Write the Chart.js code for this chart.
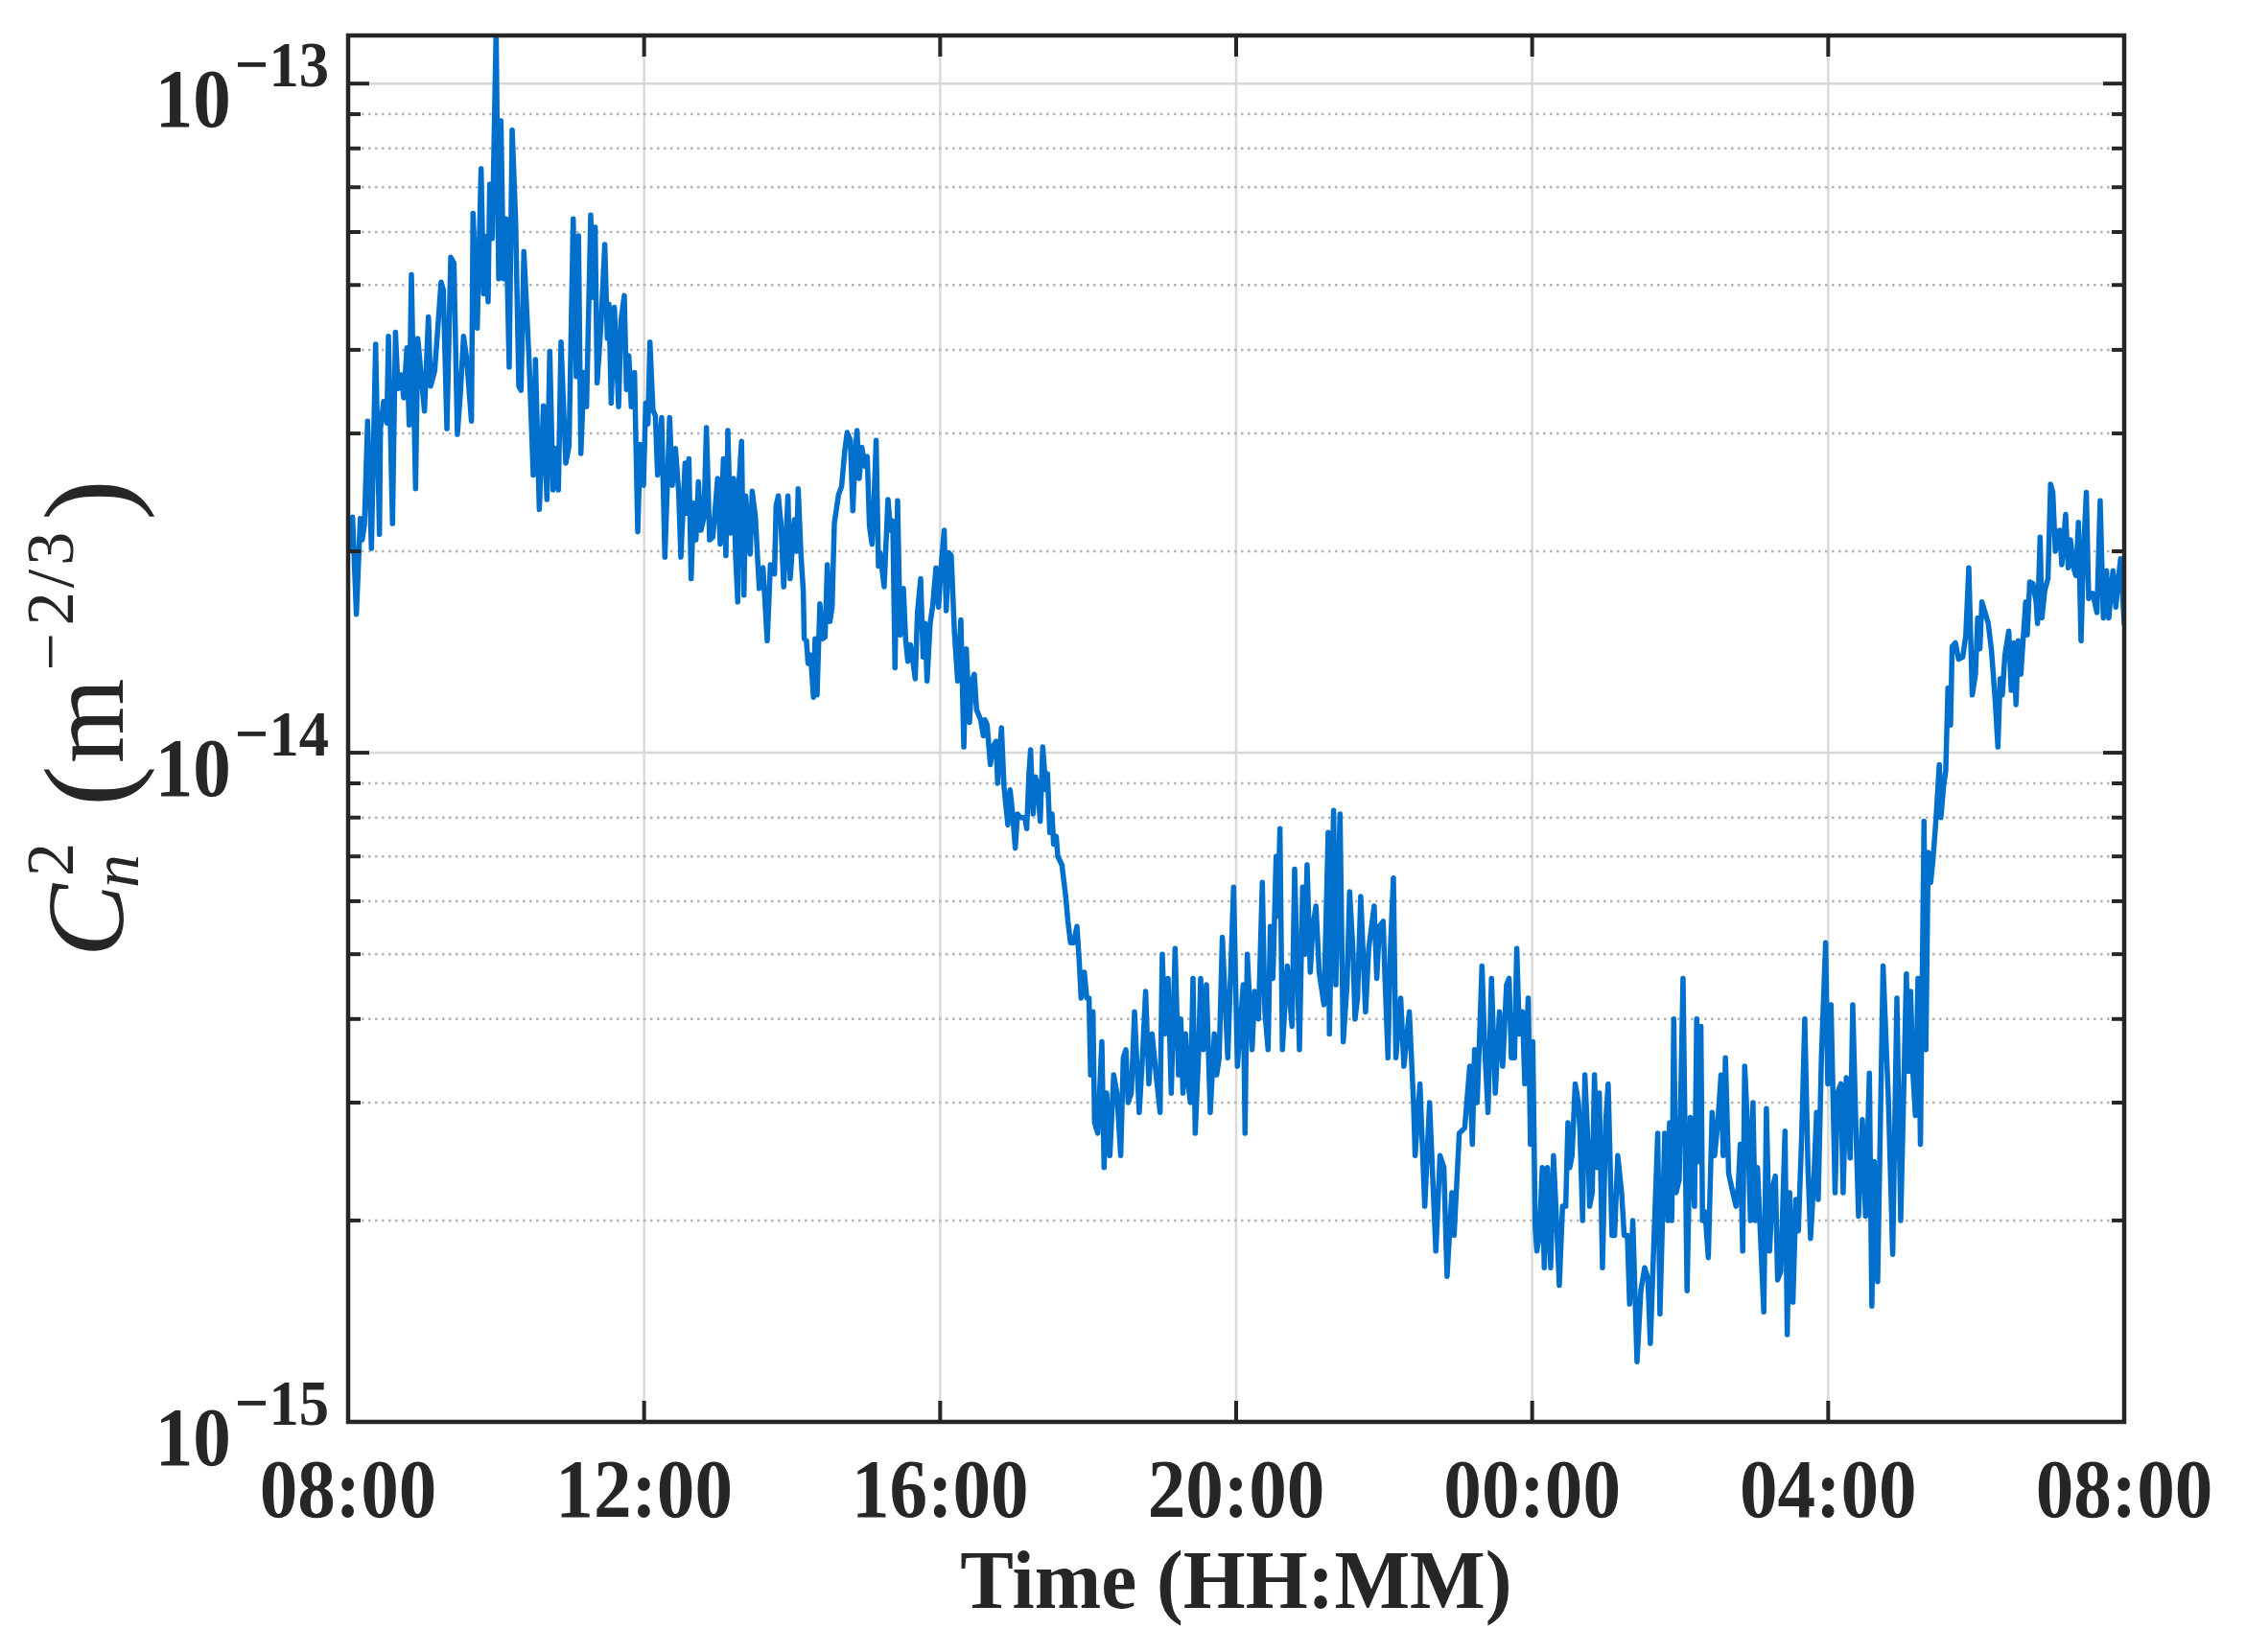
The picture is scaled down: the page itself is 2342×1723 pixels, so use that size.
<!DOCTYPE html>
<html>
<head>
<meta charset="utf-8">
<title>Cn2 time series</title>
<script src="https://cdn.jsdelivr.net/npm/chart.js@4.4.1/dist/chart.umd.min.js"></script>
<style>
  html, body { margin: 0; padding: 0; background: #ffffff; }
  canvas { display: block; }
</style>
</head>
<body>
<canvas id="cn2Chart" width="2342" height="1723"></canvas>
<script>
// axis setup
const xTickMinutes = [0, 240, 480, 720, 960, 1200, 1440];
const xTickLabels = ['08:00', '12:00', '16:00', '20:00', '00:00', '04:00', '08:00'];
const yDecadeExp = [-15, -14, -13];
const yMin = 1e-15;
const yMax = 1.18e-13;

// minutes after 08:00
const timeMin = [
  0, 1.0, 3.6, 6.7, 9.9, 11.4, 13.2, 15.8, 18.9, 22.3,
  25.4, 26.2, 28.8, 31.4, 32.7, 36.0, 38.4, 40.4, 43.0, 45.1,
  47.7, 49.5, 51.3, 54.7, 56.5, 59.9, 61.9, 65.1, 66.9, 70.2,
  75.4, 77.2, 80.1, 83.2, 85.8, 88.6, 91.0, 93.6, 96.2, 100.0,
  101.3, 104.7, 107.8, 109.9, 111.7, 113.5, 114.8, 116.9, 120.0, 122.1,
  123.9, 126.0, 128.0, 130.6, 133.0, 135.8, 138.4, 140.2, 142.5, 146.7,
  150.1, 151.9, 155.0, 158.4, 161.2, 163.5, 166.1, 167.9, 170.5, 172.6,
  176.5, 179.1, 182.5, 185.0, 186.8,
  188.7, 191.3, 193.3, 196.7, 198.5, 200.3, 201.9, 205.0, 208.1, 210.2,
  211.5, 213.3, 215.9, 217.2, 219.3, 221.3, 223.9, 225.7, 227.6, 229.6,
  232.2, 234.8, 236.9, 239.5, 241.3, 243.1, 244.7, 247.2, 249.1, 250.9,
  254.2, 256.8, 260.7, 262.8, 265.4, 268.0, 269.8, 273.2, 275.0, 276.3,
  278.1, 280.2, 282.0, 284.0, 286.1, 288.5, 290.5, 293.1, 295.7, 299.6,
  301.7, 304.3, 306.3, 307.9, 310.0, 312.6, 314.1, 315.9, 317.0, 319.0,
  320.9, 322.4, 324.2, 326.0, 327.6, 330.2, 333.3, 336.4, 339.8, 342.4,
  345.7, 347.0, 348.8, 350.9, 353.2, 356.6, 358.4, 361.8, 363.6, 364.9,
  367.2, 369.0, 369.8, 371.6, 372.9, 375.0, 377.3, 378.6, 380.2, 382.5,
  384.6, 386.7, 388.5, 390.6, 392.4, 394.2, 397.6, 400.1, 402.7, 404.6,
  407.2, 409.2, 411.3, 412.6, 414.4, 416.5, 419.1, 420.9, 422.7, 424.8,
  426.1, 428.1, 430.0, 431.3, 434.6, 437.7, 439.8, 441.6, 443.4, 445.5,
  447.6, 450.2, 452.0, 453.8, 455.9, 457.9, 459.8, 461.6, 464.2, 466.2,
  467.8, 469.4, 471.9, 474.0, 476.6, 478.7, 480.8, 483.3, 484.9, 487.0,
  489.0, 491.6, 494.2, 496.8, 499.2, 501.2, 503.8, 505.6, 507.7, 509.5,
  512.9, 515.0, 516.3, 518.1, 520.7, 522.7, 525.3, 526.6, 529.7, 531.8,
  534.9, 536.7, 538.8, 540.9, 542.7, 545.3,
  548.7, 550.2, 552.0, 553.3, 555.4, 557.2, 559.3, 561.1, 563.2, 565.8,
  567.0, 568.9, 570.7, 572.0, 574.1, 575.4, 578.7, 581.8, 583.6, 585.7,
  588.3, 590.9, 592.7, 594.3, 596.9, 598.9, 600.7, 602.0, 603.9, 605.2,
  607.8, 611.1, 612.9, 615.0, 617.6, 620.7, 623.3, 626.4, 628.5, 630.6,
  632.4, 635.0, 637.6, 641.4, 644.0, 646.6, 649.2, 651.8, 654.4, 658.3,
  660.1, 662.2, 664.8, 667.4, 670.5, 673.3, 675.1, 676.9, 679.0, 681.1,
  682.9, 685.0, 686.8, 689.4, 691.2, 693.3, 695.9, 699.0, 702.3, 704.2,
  706.2, 708.8, 713.2, 717.9, 721.0, 725.7,
  727.2, 729.0, 732.9, 735.0, 738.1, 741.2, 743.3, 745.9, 747.7, 749.8,
  752.4, 753.7, 755.5, 757.5, 761.4, 765.3, 767.4, 771.3, 773.9, 775.7,
  777.5, 780.1, 782.2, 784.7, 787.3, 791.2, 794.6, 795.6, 799.0, 800.8,
  804.2, 806.8, 809.9, 812.0, 814.6, 816.4, 818.4, 821.0, 824.9, 827.5,
  831.9, 834.0, 836.1, 839.2, 840.5, 843.1, 844.9, 847.5, 849.5, 853.4,
  856.0, 860.4, 863.8, 865.1, 869.0, 872.9, 876.8, 881.9, 885.3, 888.4,
  891.0, 894.9, 896.7, 900.9, 905.3,
  909.4, 911.5, 913.3, 915.4, 917.2, 919.3, 921.6, 924.2, 927.0, 930.1,
  933.5, 936.1, 939.2, 941.3, 943.1, 945.7, 947.5, 949.6, 952.2, 954.0,
  956.8, 958.6, 960.5, 962.5, 963.8, 965.9, 968.2, 969.8, 972.4, 975.0,
  977.3, 979.7, 982.0, 984.6, 987.2, 989.0, 990.5, 992.3, 994.9, 997.5,
  998.8, 1000.9, 1002.7, 1005.3, 1006.6, 1008.7, 1010.5, 1012.6, 1014.4, 1017.0,
  1019.6, 1021.6, 1024.7, 1026.8, 1029.4, 1032.5, 1034.6, 1037.2, 1039.0, 1041.6,
  1045.0, 1048.1, 1051.2, 1053.8, 1055.8, 1059.7, 1061.8, 1063.6, 1067.5, 1070.1,
  1071.4, 1073.2, 1074.8, 1076.6, 1079.2, 1082.3, 1085.6,
  1088.2, 1091.6, 1093.4, 1095.0, 1096.8, 1098.1, 1100.2, 1102.8, 1105.9, 1107.9,
  1110.5, 1113.1, 1114.9, 1116.7, 1119.3, 1122.7, 1125.3, 1127.1, 1128.7, 1130.7,
  1132.3, 1134.9, 1137.0, 1139.0, 1140.8, 1142.7, 1144.7, 1147.8, 1149.9, 1152.5,
  1155.1, 1157.2, 1159.0, 1161.6, 1165.0, 1166.8, 1168.8, 1171.4, 1173.8, 1175.8,
  1178.4, 1181.0, 1183.6, 1185.7, 1188.3, 1190.6, 1191.9, 1194.5, 1197.9, 1199.7,
  1202.3, 1205.6, 1207.5, 1210.3, 1212.1, 1214.7, 1217.8, 1219.9, 1222.5, 1224.6,
  1227.7, 1230.3, 1233.4, 1235.4, 1237.3, 1240.1, 1244.5, 1248.9, 1252.3, 1255.7,
  1258.8, 1263.4, 1265.2,
  1266.8, 1268.6, 1270.7, 1272.8, 1274.8, 1277.7, 1279.2, 1281.1, 1283.1, 1284.9,
  1287.5, 1290.1, 1291.4, 1293.5, 1295.3, 1297.1, 1299.2, 1300.5, 1303.1, 1305.7,
  1309.1, 1311.6, 1314.0, 1316.8, 1319.4, 1321.2, 1323.0, 1324.6, 1327.2, 1329.8,
  1332.4, 1335.5, 1337.6, 1339.4, 1341.2, 1343.3, 1346.4, 1348.4, 1350.5, 1352.3,
  1354.1, 1356.2, 1358.3, 1360.1, 1361.4, 1363.4, 1366.0, 1368.6, 1369.7, 1371.8,
  1373.3, 1375.6, 1378.2, 1380.3, 1382.1, 1384.2, 1386.0, 1387.8, 1389.4, 1392.5,
  1394.6, 1396.4, 1399.0, 1400.8, 1402.9, 1405.0, 1406.8, 1409.3, 1411.2, 1414.5,
  1417.9, 1420.5, 1423.1, 1425.7, 1427.5, 1430.9, 1433.2, 1435.3, 1437.1, 1440
];

// Cn2 in units of 1e-15 m^-2/3
const cn2E15 = [
  22, 20.0, 22.5, 16.1, 22.4, 20.8, 21.9, 31.3, 20.2, 40.8,
  21.2, 30.5, 33.5, 31.1, 41.9, 22.0, 42.5, 35.0, 36.7, 33.9,
  40.3, 30.9, 51.8, 24.8, 41.6, 35.5, 32.4, 44.8, 35.3, 37.2,
  50.5, 49.1, 30.5, 55.0, 53.9, 29.9, 34.4, 41.9, 38.7, 31.3,
  64.0, 43.1, 74.6, 48.5, 59.1, 47.2, 70.7, 58.7, 120, 51.1,
  88.0, 51.1, 62.8, 37.7, 85.2, 62.4, 35.3, 34.8, 56.1, 38.7,
  26.0, 38.7, 23.1, 33.0, 23.9, 39.8, 24.7, 28.5, 24.7, 41.1,
  27.1, 28.7, 62.8, 36.5, 59.2,
  28.0, 37.0, 32.9, 63.6, 47.9, 61.0, 35.7, 43.6, 57.5, 41.6,
  46.8, 33.3, 46.3, 40.6, 32.9, 44.4, 48.2, 34.9, 39.2, 32.9,
  37.0, 21.4, 28.9, 25.1, 33.3, 31.0, 41.1, 32.5, 31.9, 26.0,
  31.7, 19.6, 31.7, 25.1, 28.5, 24.5, 19.6, 27.1, 22.8, 27.5,
  18.2, 23.6, 20.8, 25.4, 21.5, 22.5, 30.6, 20.8, 21.0, 25.7,
  20.5, 27.5, 19.7, 30.3, 21.3, 25.7, 19.8, 16.8, 25.5, 29.2,
  17.2, 24.2, 21.3, 19.8, 24.6, 22.5, 17.6, 18.9, 14.7, 19.1,
  18.5, 23.4, 24.2, 22.0, 17.7, 24.2, 18.2, 22.3, 20.0, 24.8,
  19.7, 17.5, 14.8, 14.7, 13.6, 14.0, 12.1, 14.8, 12.2, 16.7,
  14.8, 14.9, 19.1, 15.7, 16.5, 22.0, 24.3, 25.0, 28.3, 30.1,
  29.3, 23.0, 28.3, 30.3, 25.7, 28.6, 26.8, 27.7, 21.8, 20.5,
  23.0, 29.3, 19.0, 19.9, 17.7, 23.9, 21.5, 22.2, 13.4, 23.8,
  15.0, 17.6, 14.8, 13.7, 14.5, 13.7, 12.9, 16.2, 18.2, 13.9,
  15.6, 12.8, 15.6, 16.6, 18.9, 16.5, 19.0, 21.5, 16.3, 19.9,
  19.7, 15.1, 12.8, 15.8, 10.2, 14.3, 11.1, 12.8, 13.1, 11.6,
  11.2, 10.6, 11.2, 11.0, 9.6, 10.2, 10.4, 9.0, 10.9, 8.9,
  7.8, 8.8, 8.1, 7.2, 8.1, 8.0,
  8.0, 7.7, 9.3, 10.1, 8.1, 9.2, 8.9, 7.9, 10.2, 8.8,
  9.3, 7.6, 8.1, 7.3, 7.5, 7.0, 6.8, 6.1, 5.6, 5.2,
  5.2, 5.5, 4.9, 4.3, 4.7, 4.3, 4.3, 3.3, 4.1, 2.8,
  2.7, 3.7, 2.4, 3.1, 2.5, 3.3, 3.1, 2.5, 3.5, 3.6,
  3.0, 3.1, 4.1, 2.9, 3.5, 4.4, 3.2, 3.8, 3.4, 2.9,
  5.0, 3.8, 4.6, 3.1, 5.1, 3.3, 4.0, 3.1, 3.8, 3.2,
  3.0, 4.6, 2.7, 3.5, 4.6, 3.6, 4.5, 2.9, 3.8, 3.3,
  3.5, 5.3, 3.5, 6.3, 3.4, 4.5,
  2.7, 5.0, 3.6, 4.4, 4.0, 6.4, 4.1, 3.6, 5.5, 4.6,
  7.0, 5.7, 7.7, 3.6, 4.8, 3.9, 6.7, 3.6, 6.3, 5.0,
  6.8, 4.7, 5.5, 5.9, 4.7, 4.2, 7.6, 3.8, 8.2, 4.5,
  8.1, 3.7, 4.5, 6.2, 5.1, 4.0, 4.3, 6.1, 4.1, 5.1,
  5.9, 4.6, 5.5, 5.6, 4.7, 3.5, 5.0, 6.5, 3.5, 4.3,
  3.4, 4.1, 3.0, 2.5, 3.2, 2.1, 3.0, 1.8, 2.5, 2.4,
  1.65, 2.2, 1.9, 2.7, 2.75,
  3.4, 2.6, 3.6, 3.0, 3.7, 4.8, 3.6, 2.9, 4.6, 3.1,
  4.1, 3.4, 4.5, 4.6, 3.5, 3.5, 5.1, 3.8, 4.1, 3.2,
  4.3, 2.6, 3.7, 1.95, 1.8, 1.9, 2.4, 1.7, 2.4, 1.7,
  2.5, 2.0, 1.6, 2.1, 2.1, 2.8, 2.4, 2.5, 3.2, 3.0,
  2.7, 2.0, 3.3, 2.6, 2.1, 2.2, 3.3, 2.4, 3.1, 1.7,
  2.8, 3.2, 1.9, 1.9, 2.5, 2.2, 1.9, 1.9, 1.5, 2.0,
  1.23, 1.57, 1.7, 1.64, 1.31, 2.1, 2.7, 1.45, 2.7, 2.0,
  2.8, 2.0, 4.0, 2.2, 2.3, 4.6, 1.57,
  2.85, 2.1, 4.0, 2.45, 3.9, 2.0, 2.06, 1.76, 2.9, 2.5,
  2.8, 3.3, 2.5, 3.5, 2.35, 2.2, 2.1, 2.25, 2.6, 1.8,
  3.4, 2.7, 2.0, 3.0, 2.0, 2.4, 1.97, 1.46, 2.94, 1.8,
  2.25, 2.33, 1.63, 1.68, 2.72, 1.35, 2.2, 1.51, 2.15, 1.93,
  2.64, 4.0, 2.4, 1.88, 2.3, 2.9, 2.15, 3.5, 5.2, 3.2,
  4.2, 2.2, 3.1, 3.2, 2.2, 3.27, 2.48, 4.2, 2.74, 2.03,
  2.83, 2.03, 3.32, 1.49, 2.45, 1.62, 4.8, 3.0, 1.78, 4.3,
  2.0, 4.67, 3.34,
  4.4, 3.35, 2.87, 4.6, 2.6, 7.9, 3.6, 7.1, 6.4, 6.9,
  8.0, 9.6, 8.0, 8.9, 9.4, 12.5, 11.0, 14.4, 14.6, 13.8,
  13.9, 15.0, 18.9, 12.2, 13.1, 15.9, 14.3, 16.8, 16.2, 15.6,
  14.2, 11.9, 10.2, 12.9, 12.2, 14.0, 15.2, 12.4, 14.6, 11.8,
  14.7, 13.1, 15.0, 16.8, 15.0, 18.0, 17.9, 16.8, 15.6, 21.0,
  15.9, 17.5, 18.2, 25.2, 24.5, 20.0, 21.4, 21.5, 19.1, 22.7,
  18.9, 20.8, 18.9, 18.4, 22.1, 14.7, 19.5, 24.5, 17.0, 17.3,
  16.2, 23.8, 15.9, 18.7, 15.9, 18.7, 16.5, 18.2, 19.5, 15.6
];

const FONT = '"Liberation Serif", "Times New Roman", Times, serif';
const INK = '#262626';
const LINE_BLUE = '#0070cc';

const points = timeMin.map((t, i) => ({ x: t, y: cn2E15[i] * 1e-15 }));

function hline(ctx, x1, x2, y) {
  ctx.beginPath();
  ctx.moveTo(x1, y);
  ctx.lineTo(x2, y);
  ctx.stroke();
}

function vline(ctx, x, y1, y2) {
  ctx.beginPath();
  ctx.moveTo(x, y1);
  ctx.lineTo(x, y2);
  ctx.stroke();
}

// text squeezed a little horizontally, like the tall Times glyphs of the figure
function narrowText(ctx, text, x, y, sx) {
  ctx.save();
  ctx.translate(x, y);
  ctx.scale(sx, 1);
  ctx.fillText(text, 0, 0);
  ctx.restore();
}

// 2..9 x 10^n inside the axis range
function minorValues() {
  const out = [];
  yDecadeExp.forEach(e => {
    for (let k = 2; k <= 9; k++) {
      const v = k * Math.pow(10, e);
      if (v < yMax) out.push(v);
    }
  });
  return out;
}

function drawYTitle(ctx, cx, cy) {
  const big = 114, small = 70, up = -52;
  const parts = [
    { t: 'C', f: `italic ${big}px ${FONT}`, dy: 0, gap: 2 },
    { stack: [
        { t: '2', f: `${small}px ${FONT}`, dy: up, dx: 6 },
        { t: 'n', f: `italic ${small}px ${FONT}`, dy: 16, dx: -6 }
      ], gap: 44 },
    { t: '(', f: `${big + 14}px ${FONT}`, dy: 6, gap: 2 },
    { t: 'm', f: `${big}px ${FONT}`, dy: 0, gap: 8 },
    { t: '\u2212', f: `${small}px ${FONT}`, dy: up, gap: 8 },
    { t: '2', f: `${small}px ${FONT}`, dy: up, gap: 4 },
    { t: '/', f: `${small}px ${FONT}`, dy: up, gap: 4 },
    { t: '3', f: `${small}px ${FONT}`, dy: up, gap: 12 },
    { t: ')', f: `${big + 14}px ${FONT}`, dy: 6, gap: 0 }
  ];
  let total = 0;
  parts.forEach(p => {
    if (p.stack) {
      p.w = Math.max(...p.stack.map(s => { ctx.font = s.f; return ctx.measureText(s.t).width; }));
    } else {
      ctx.font = p.f;
      p.w = ctx.measureText(p.t).width;
    }
    total += p.w + p.gap;
  });
  ctx.save();
  ctx.translate(cx, cy);
  ctx.rotate(-Math.PI / 2);
  ctx.fillStyle = INK;
  ctx.textAlign = 'left';
  ctx.textBaseline = 'alphabetic';
  let x = -total / 2;
  parts.forEach(p => {
    if (p.stack) {
      p.stack.forEach(s => {
        ctx.font = s.f;
        ctx.fillText(s.t, x + s.dx, s.dy);
      });
    } else {
      ctx.font = p.f;
      ctx.fillText(p.t, x, p.dy);
    }
    x += p.w + p.gap;
  });
  ctx.restore();
}

const matlabAxes = {
  id: 'matlabAxes',
  beforeDatasetsDraw(chart) {
    const { ctx, chartArea: a } = chart;
    const xs = chart.scales.x, ys = chart.scales.y;
    ctx.save();
    // vertical grid
    ctx.lineWidth = 2.5;
    ctx.strokeStyle = '#dadada';
    xTickMinutes.forEach(t => {
      const px = xs.getPixelForValue(t);
      if (px > a.left + 3 && px < a.right - 3) vline(ctx, px, a.top, a.bottom);
    });
    // minor horizontal grid, dotted
    ctx.strokeStyle = '#b3b3b3';
    ctx.lineWidth = 2.5;
    ctx.setLineDash([2.5, 4.5]);
    minorValues().forEach(v => hline(ctx, a.left, a.right, ys.getPixelForValue(v)));
    // major horizontal grid
    ctx.setLineDash([]);
    ctx.strokeStyle = '#d7d7d7';
    yDecadeExp.forEach(e => {
      const py = ys.getPixelForValue(Math.pow(10, e));
      if (py > a.top + 3 && py < a.bottom - 3) hline(ctx, a.left, a.right, py);
    });
    ctx.restore();
  },
  afterDatasetsDraw(chart) {
    const { ctx, chartArea: a } = chart;
    const xs = chart.scales.x, ys = chart.scales.y;
    ctx.save();
    ctx.strokeStyle = INK;
    ctx.fillStyle = INK;

    // tick marks, pointing inwards on all four sides
    ctx.lineWidth = 4;
    yDecadeExp.forEach(e => {
      const py = ys.getPixelForValue(Math.pow(10, e));
      hline(ctx, a.left, a.left + 22, py);
      hline(ctx, a.right - 22, a.right, py);
    });
    minorValues().forEach(v => {
      const py = ys.getPixelForValue(v);
      hline(ctx, a.left, a.left + 13, py);
      hline(ctx, a.right - 13, a.right, py);
    });
    xTickMinutes.forEach(t => {
      const px = xs.getPixelForValue(t);
      vline(ctx, px, a.bottom, a.bottom - 22);
      vline(ctx, px, a.top, a.top + 22);
    });

    // box
    ctx.lineWidth = 4.5;
    ctx.strokeRect(a.left, a.top, a.right - a.left, a.bottom - a.top);

    const sx = 0.92;
    ctx.textBaseline = 'alphabetic';
    ctx.textAlign = 'center';

    // x tick labels
    ctx.font = `bold 86px ${FONT}`;
    xTickMinutes.forEach((t, i) => {
      narrowText(ctx, xTickLabels[i], xs.getPixelForValue(t), a.bottom + 99, sx);
    });

    // y tick labels 10^n
    ctx.textAlign = 'left';
    yDecadeExp.forEach(e => {
      const py = ys.getPixelForValue(Math.pow(10, e));
      const sup = '\u2212' + Math.abs(e);
      ctx.font = `bold 68px ${FONT}`;
      const wSup = ctx.measureText(sup).width * sx;
      ctx.font = `bold 86px ${FONT}`;
      const wBase = ctx.measureText('10').width * sx;
      const right = a.left - 20;
      narrowText(ctx, '10', right - wSup - 4 - wBase, py + 45, sx);
      ctx.font = `bold 68px ${FONT}`;
      narrowText(ctx, sup, right - wSup, py + 3, sx);
    });

    // x axis title
    ctx.textAlign = 'center';
    ctx.font = `bold 86px ${FONT}`;
    narrowText(ctx, 'Time (HH:MM)', (a.left + a.right) / 2, a.bottom + 194, 0.97);

    ctx.restore();

    // y axis title
    drawYTitle(ctx, 128, 749);
  }
};

new Chart(document.getElementById('cn2Chart'), {
  type: 'line',
  data: {
    datasets: [{
      data: points,
      borderColor: LINE_BLUE,
      borderWidth: 5.5,
      pointRadius: 0,
      tension: 0,
      fill: false,
      borderJoinStyle: 'round',
      borderCapStyle: 'round'
    }]
  },
  options: {
    responsive: false,
    animation: false,
    devicePixelRatio: 1,
    layout: { padding: { left: 363, right: 127, top: 37, bottom: 240 } },
    plugins: {
      legend: { display: false },
      tooltip: { enabled: false }
    },
    scales: {
      x: { type: 'linear', min: 0, max: 1440, display: false },
      y: { type: 'logarithmic', min: yMin, max: yMax, display: false }
    }
  },
  plugins: [matlabAxes]
});
</script>
</body>
</html>
